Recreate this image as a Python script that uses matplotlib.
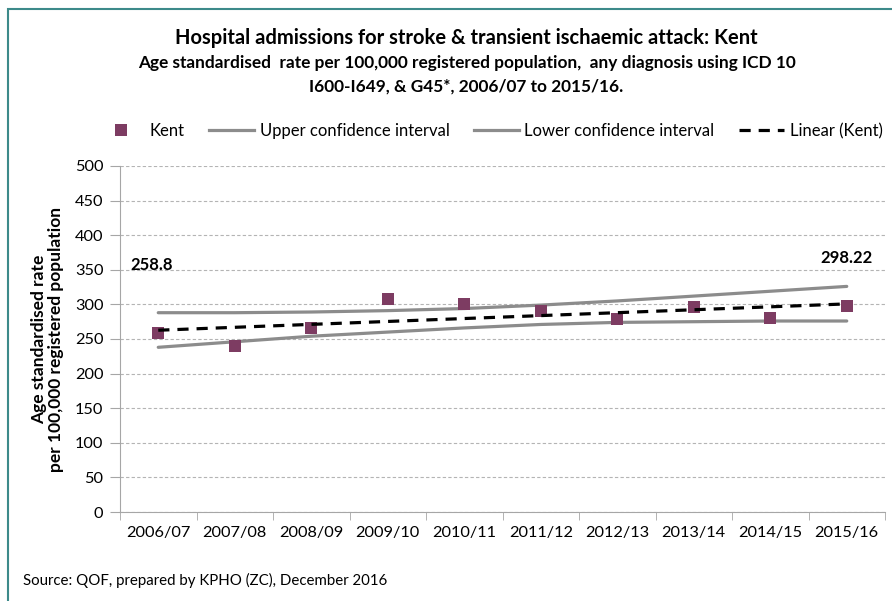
import numpy as np
import matplotlib.pyplot as plt
from matplotlib.lines import Line2D
from matplotlib.patches import Rectangle

plt.rcParams['font.family'] = ['Lato', 'DejaVu Sans']

years = ["2006/07", "2007/08", "2008/09", "2009/10", "2010/11",
         "2011/12", "2012/13", "2013/14", "2014/15", "2015/16"]
kent = [258.8, 240, 265.5, 308, 300, 290.5, 279, 296, 281, 298.22]
upper_ci = [288, 288, 289, 291, 294, 299, 305, 312, 319, 326]
lower_ci = [238, 246, 254, 260, 266, 271, 274, 275, 276, 276]

x = np.arange(len(years))
coef = np.polyfit(x, kent, 1)
trend = np.polyval(coef, x)

fig = plt.figure(figsize=(8.92, 6.01), dpi=100)
ax = fig.add_axes([120 / 892, 1 - 512 / 601, 765 / 892, 346 / 601])

grey = '#8c8c8c'
ax.plot(x, upper_ci, color=grey, lw=2.3, solid_capstyle='round', zorder=2)
ax.plot(x, lower_ci, color=grey, lw=2.3, solid_capstyle='round', zorder=2)
ax.plot(x, kent, 's', color='#7d3c62', ms=9.2, mew=0, zorder=3)
ax.plot(x, trend, color='black', lw=2.3, ls=(0, (3.5, 2.5)), zorder=4)

ax.set_xlim(-0.5, len(years) - 0.5)
ax.set_ylim(0, 500)
ax.set_yticks(range(0, 501, 50))
ax.set_xticks(x)
ax.set_xticklabels(years)
ax.set_xticks(np.arange(-0.5, len(years)), minor=True)
ax.tick_params(axis='x', which='major', length=0, pad=10, labelsize=11.8)
ax.tick_params(axis='x', which='minor', length=6, color='#a6a6a6')
ax.tick_params(axis='y', length=7, color='#a6a6a6', labelsize=11.8, pad=5)
ax.grid(axis='y', color='#b4b4b4', ls=(0, (3, 2)), lw=0.8)
ax.set_axisbelow(True)
for s in ['top', 'right']:
    ax.spines[s].set_visible(False)
ax.spines['left'].set_color('#a6a6a6')
ax.spines['bottom'].set_color('#a6a6a6')

ax.set_ylabel("Age standardised rate\nper 100,000 registered population",
              fontsize=12.5, fontweight='bold', labelpad=8, linespacing=1.05)

# data labels first and last
ax.annotate(f"{kent[0]:g}", (x[0], kent[0]), xytext=(-20, 45), textcoords='offset points',
            fontsize=12, fontweight='bold')
ax.annotate(f"{kent[-1]:g}", (x[-1], kent[-1]), xytext=(-19, 31), textcoords='offset points',
            fontsize=12, fontweight='bold')

fig.text(0.523, 0.926, "Hospital admissions for stroke & transient ischaemic attack: Kent",
         ha='center', fontsize=14.5, fontweight='bold')
fig.text(0.523, 0.887, "Age standardised  rate per 100,000 registered population,  any diagnosis using ICD 10",
         ha='center', fontsize=12.4, fontweight='bold')
fig.text(0.523, 0.848, "I600-I649, & G45*, 2006/07 to 2015/16.",
         ha='center', fontsize=12.4, fontweight='bold')

handles = [
    Line2D([], [], ls='none', marker='s', color='#7d3c62', ms=8.5, mew=0),
    Line2D([], [], color=grey, lw=2.3),
    Line2D([], [], color=grey, lw=2.3),
    Line2D([], [], color='black', lw=2.3, ls=(0, (3.5, 2.5))),
]
fig.legend(handles, ["Kent", "Upper confidence interval", "Lower confidence interval", "Linear (Kent)"],
           loc='center', bbox_to_anchor=(0.55, 0.782), ncol=4, frameon=False,
           fontsize=12.0, handlelength=2.7, columnspacing=1.45, handletextpad=0.35,
           borderpad=0.2)

fig.text(23 / 892, 1 - 580 / 601, "Source: QOF, prepared by KPHO (ZC), December 2016",
         fontsize=10.8, va='center')

fig.patches.append(Rectangle((8 / 892, -0.05), 1.1, 1 - 9 / 601 + 0.05,
                             transform=fig.transFigure, fill=False,
                             edgecolor='#3d8a8a', lw=1.5, clip_on=False))

fig.savefig("out.png", dpi=100)
